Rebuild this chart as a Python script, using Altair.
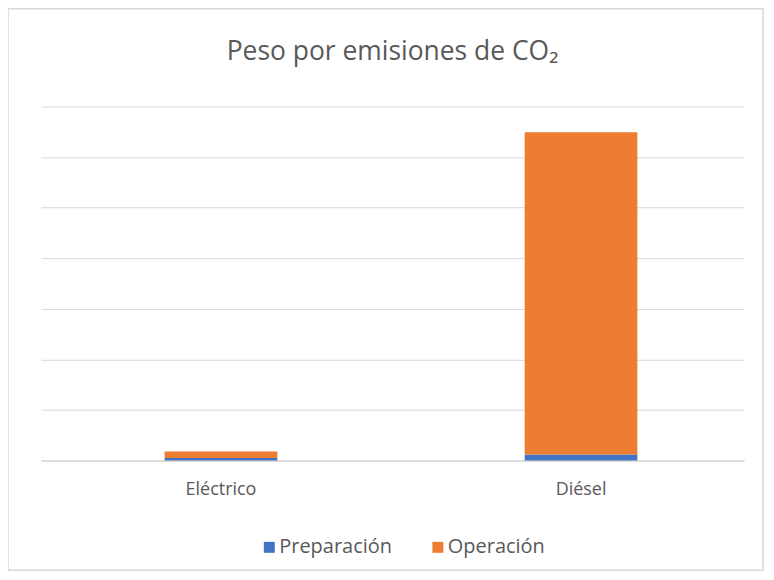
import altair as alt
import pandas as pd

categories = ["Eléctrico", "Diésel"]
series = ["Preparación", "Operación"]
preparacion = [0.05, 0.12]
operacion = [0.13, 6.37]
colors = ["#4472C4", "#ED7D31"]
grid_values = [0, 1, 2, 3, 4, 5, 6, 7]

rows = []
for i, c in enumerate(categories):
    rows.append({"Tipo": c, "Serie": series[0], "Valor": preparacion[i], "orden": 0})
    rows.append({"Tipo": c, "Serie": series[1], "Valor": operacion[i], "orden": 1})
df = pd.DataFrame(rows)

FONT = "Open Sans"
GRAY = "#595959"

bars = alt.Chart(df).mark_bar(size=113).encode(
    x=alt.X("Tipo:N", sort=categories, title=None,
            scale=alt.Scale(paddingInner=0.687, paddingOuter=0.32, align=0.537),
            axis=alt.Axis(labelAngle=0, ticks=False, labelPadding=20, labelFontSize=18,
                          labelColor=GRAY, labelFont=FONT, domainColor="#d9d9d9",
                          domainWidth=1.5, grid=False)),
    y=alt.Y("Valor:Q", stack="zero", title=None,
            scale=alt.Scale(domain=[0, 7], nice=False),
            axis=alt.Axis(values=grid_values, labels=False, ticks=False, domain=False,
                          gridColor="#d9d9d9", gridWidth=1)),
    color=alt.Color("Serie:N", scale=alt.Scale(domain=series, range=colors),
                    legend=alt.Legend(title=None, orient="none", direction="horizontal",
                                      legendX=219, legendY=432, symbolType="square",
                                      symbolSize=121, symbolStrokeWidth=0,
                                      labelFontSize=20, labelColor=GRAY, labelFont=FONT,
                                      columnPadding=36, labelOffset=0)),
    order=alt.Order("orden:Q"),
)

frame = alt.Chart(pd.DataFrame({"a": [0]})).mark_rect(
    filled=False, stroke="#d9d9d9", strokeWidth=1.5
).encode(
    x=alt.value(-33), x2=alt.value(724), y=alt.value(-98), y2=alt.value(465)
)

chart = alt.layer(frame, bars).properties(
    width=705, height=355,
    autosize=alt.AutoSizeParams(type="none"),
    padding={"left": 33, "top": 98, "right": 22, "bottom": 111},
    title=alt.TitleParams("Peso por emisiones de CO₂", fontSize=26.5, font=FONT,
                          fontWeight="normal", color=GRAY, anchor="middle",
                          offset=0, dy=58),
).configure_view(strokeWidth=0)

chart.save("out.html", embed_options={"renderer": "svg", "actions": False})
